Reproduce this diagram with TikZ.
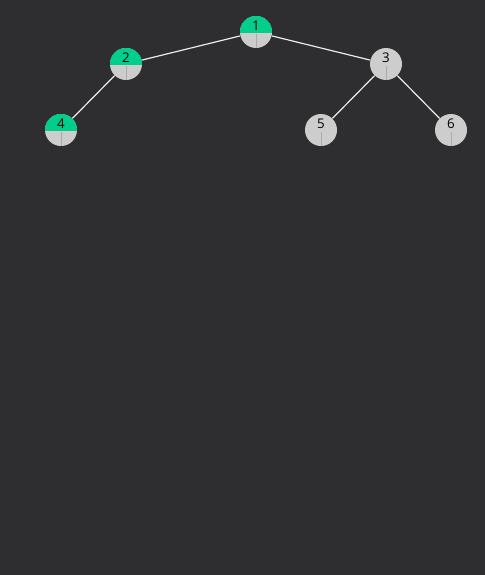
\documentclass[tikz,border=0pt]{standalone}
\usepackage{fontspec}
\setmainfont{Open Sans}
\definecolor{bg}{RGB}{46,45,47}
\definecolor{tgreen}{RGB}{0,206,138}
\definecolor{tgrey}{RGB}{205,205,205}
\definecolor{splitc}{RGB}{170,170,170}
\definecolor{edgec}{RGB}{235,235,235}
\tikzset{
  splitline/.style={draw=splitc, line width=0.6pt},
  greynode/.style={circle, minimum size=24pt, inner sep=0pt, fill=tgrey,
    path picture={\draw[splitline] ([yshift=-1.5pt]path picture bounding box.center) -- (path picture bounding box.south);}},
  greennode/.style={circle, minimum size=24pt, inner sep=0pt, fill=tgrey,
    path picture={\fill[tgreen] ([yshift=-1.1pt]path picture bounding box.west) rectangle ([xshift=2pt,yshift=2pt]path picture bounding box.north east);
      \draw[splitline] ([yshift=-1.5pt]path picture bounding box.center) -- (path picture bounding box.south);}},
  lbl/.style={font=\fontsize{10}{12}\selectfont, text=black, inner sep=0pt, yshift=4.6pt},
  edge/.style={draw=edgec, line width=0.9pt}
}
\begin{document}
\begin{tikzpicture}[x=0.75pt, y=-0.75pt]
\fill[bg] (0,0) rectangle (485,575);
\useasboundingbox (0,0) rectangle (485,575);
\node[greennode, label={[lbl]center:1}] (n1) at (256,32) {};
\node[greennode, label={[lbl]center:2}] (n2) at (126,64) {};
\node[greynode,  label={[lbl]center:3}] (n3) at (386,64) {};
\node[greennode, label={[lbl]center:4}] (n4) at (61,130) {};
\node[greynode,  label={[lbl]center:5}] (n5) at (321,130) {};
\node[greynode,  label={[lbl]center:6}] (n6) at (451,130) {};
\draw[edge] (n1) -- (n2);
\draw[edge] (n1) -- (n3);
\draw[edge] (n2) -- (n4);
\draw[edge] (n3) -- (n5);
\draw[edge] (n3) -- (n6);
\end{tikzpicture}
\end{document}
